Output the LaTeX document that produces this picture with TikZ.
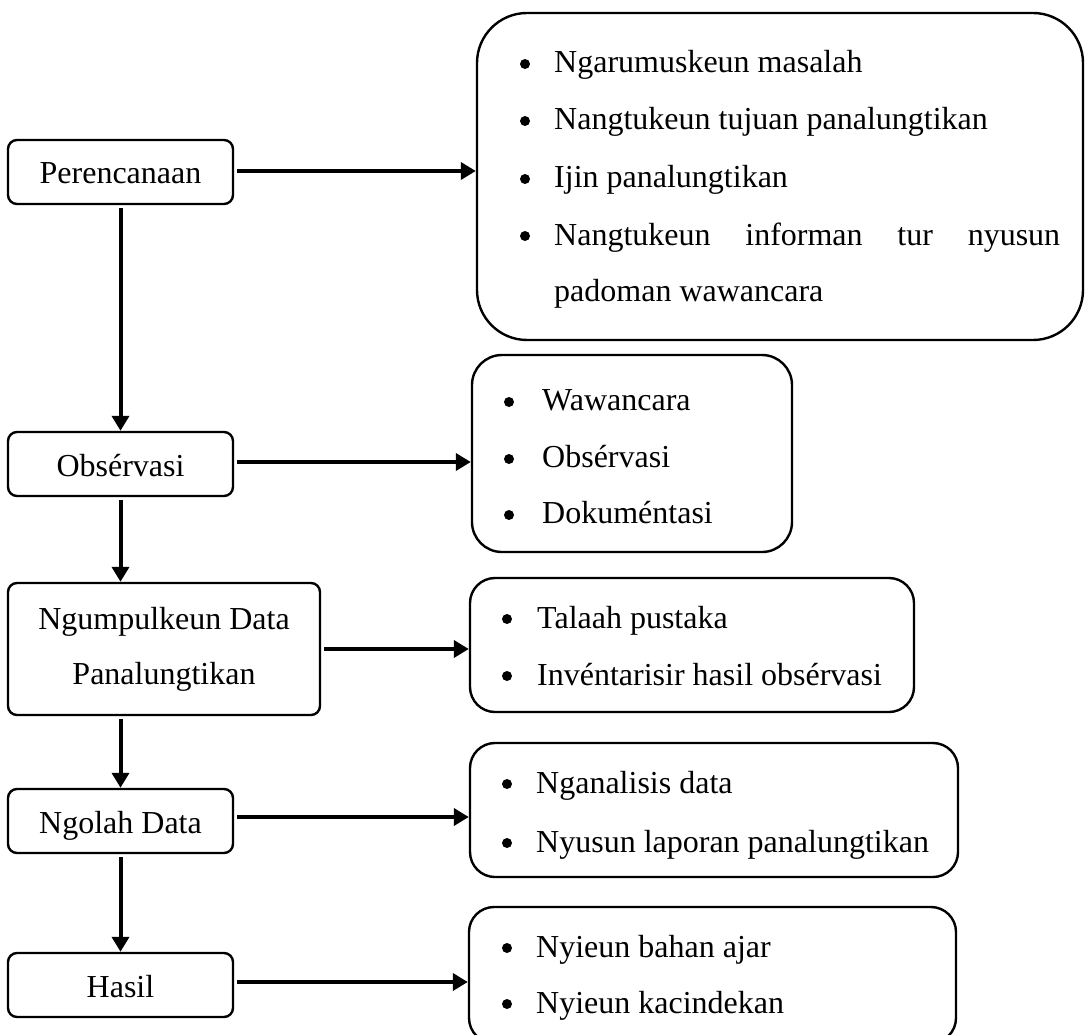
\documentclass[tikz,border=0pt]{standalone}
\usepackage{fontspec}
\setmainfont{Liberation Serif}
\usetikzlibrary{arrows.meta}
\newcommand\fs{\fontsize{32}{55}\selectfont}
\begin{document}
\begin{tikzpicture}[x=1pt,y=-1pt,
  lbox/.style={draw, line width=2.4pt, rounded corners=9pt, inner sep=0pt, font=\fs, align=center},
  rbox/.style={draw, line width=2.4pt, inner sep=0pt},
  txt/.style={inner sep=0pt, anchor=base west, font=\fs},
  bul/.style={circle, fill, inner sep=0pt, minimum size=10pt},
  conn/.style={line width=4pt, shorten <=3pt, -{Triangle[length=15pt,width=17pt]}}]
\useasboundingbox (0,0) rectangle (1086,1035);
\clip (0,0) rectangle (1086,1035);

% left column
\node[lbox, minimum width=225pt, minimum height=64pt, text height=24pt, text depth=0pt] (p1) at (120.5,172) {Perencanaan};
\node[lbox, minimum width=225pt, minimum height=64pt, text height=24pt, text depth=0pt] (p2) at (120.5,464) {Obsérvasi};
\node[lbox, minimum width=312pt, minimum height=132pt] (p3) at (164,649) {Ngumpulkeun Data\\Panalungtikan};
\node[lbox, minimum width=225pt, minimum height=64pt, text height=24pt, text depth=0pt] (p4) at (120.5,821) {Ngolah Data};
\node[lbox, minimum width=225pt, minimum height=64pt, text height=24pt, text depth=0pt] (p5) at (120.5,985) {Hasil};

% right column boxes
\node[rbox, rounded corners=50pt, minimum width=606pt, minimum height=327pt] (r1) at (780,176.5) {};
\node[rbox, rounded corners=30pt, minimum width=320pt, minimum height=197pt] (r2) at (632,453.5) {};
\node[rbox, rounded corners=25pt, minimum width=444pt, minimum height=134pt] (r3) at (692,645) {};
\node[rbox, rounded corners=25pt, minimum width=488pt, minimum height=134pt] (r4) at (714,810) {};
\node[rbox, rounded corners=25pt, minimum width=487pt, minimum height=136pt] (r5) at (712.5,975) {};

% box 1 items
\node[bul] (b11) at (525,64) {};
\node[txt] (t11) at (554,73) {Ngarumuskeun masalah};
\node[bul] (b12) at (525,121) {};
\node[txt] (t12) at (554,130) {Nangtukeun tujuan panalungtikan};
\node[bul] (b13) at (525,179) {};
\node[txt] (t13) at (554,188) {Ijin panalungtikan};
\node[bul] (b14) at (525,236) {};
\node[txt] (t14) at (554,245) {\makebox[506pt][s]{Nangtukeun informan tur nyusun}};
\node[txt] (t15) at (554,301) {padoman wawancara};

% box 2 items
\node[bul] (b21) at (509,402) {};
\node[txt] (t21) at (542,410) {Wawancara};
\node[bul] (b22) at (509,459) {};
\node[txt] (t22) at (542,467) {Obsérvasi};
\node[bul] (b23) at (509,515) {};
\node[txt] (t23) at (542,523) {Dokuméntasi};

% box 3 items
\node[bul] (b31) at (507,619) {};
\node[txt] (t31) at (537,628) {Talaah pustaka};
\node[bul] (b32) at (507,676) {};
\node[txt] (t32) at (537,685) {Invéntarisir hasil obsérvasi};

% box 4 items
\node[bul] (b41) at (507,784) {};
\node[txt] (t41) at (536,793) {Nganalisis data};
\node[bul] (b42) at (507,843) {};
\node[txt] (t42) at (536,852) {Nyusun laporan panalungtikan};

% box 5 items
\node[bul] (b51) at (507,948) {};
\node[txt] (t51) at (536,957) {Nyieun bahan ajar};
\node[bul] (b52) at (507,1004) {};
\node[txt] (t52) at (536,1013) {Nyieun kacindekan};

% horizontal connectors
\draw[conn] ([yshift=1pt]p1.east) -- ([yshift=1pt]p1.east -| r1.west);
\draw[conn] ([yshift=2pt]p2.east) -- ([yshift=2pt]p2.east -| r2.west);
\draw[conn] (p3.east) -- (p3.east -| r3.west);
\draw[conn] ([yshift=4pt]p4.east) -- ([yshift=4pt]p4.east -| r4.west);
\draw[conn] ([yshift=3pt]p5.east) -- ([yshift=3pt]p5.east -| r5.west);

% vertical connectors
\draw[conn] (p1.south) -- (p2.north);
\draw[conn] (p2.south) -- (p2.south |- p3.north);
\draw[conn] (p4.north |- p3.south) -- (p4.north);
\draw[conn] (p4.south) -- (p5.north);
\end{tikzpicture}
\end{document}
